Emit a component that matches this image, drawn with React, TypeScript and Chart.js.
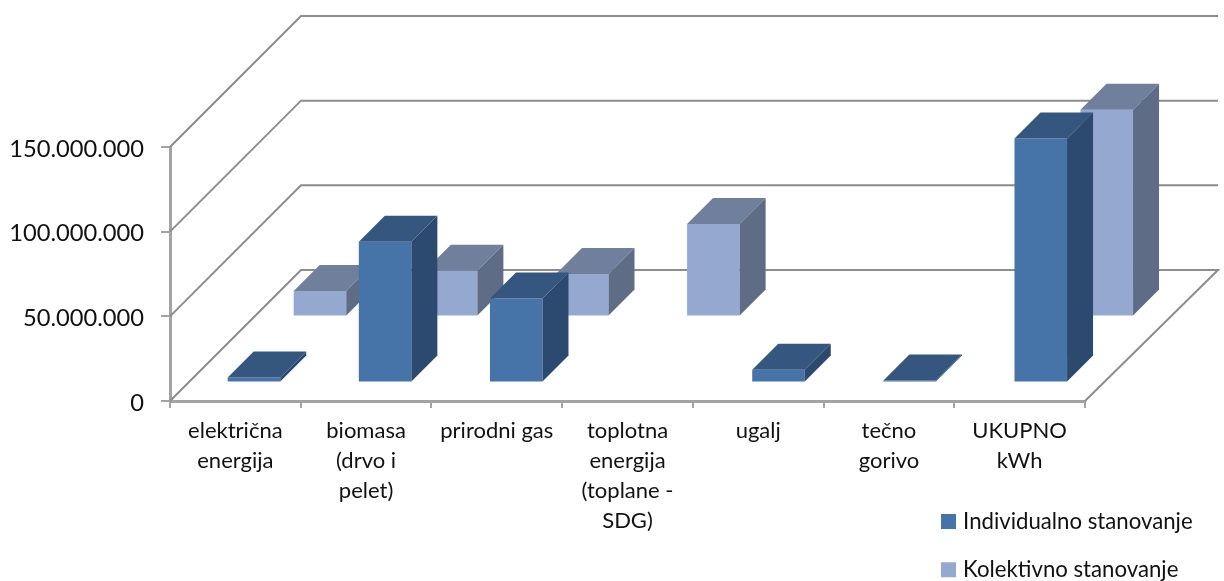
import React, { useEffect, useRef } from "react";
import { Chart, registerables } from "chart.js";

Chart.register(...registerables);

const categories = [
  ["električna", "energija"],
  ["biomasa", "(drvo i", "pelet)"],
  ["prirodni gas"],
  ["toplotna", "energija", "(toplane -", "SDG)"],
  ["ugalj"],
  ["tečno", "gorivo"],
  ["UKUPNO", "kWh"],
];
const individualno = [2900000, 83000000, 49500000, null, 7500000, 1100000, 144000000];
const kolektivno = [15000000, 27000000, 25000000, 54500000, null, null, 122000000];

const FONT = "Lato, Carlito, 'Open Sans', sans-serif";
const WALL = 131;
const BAR_DEPTH = 26;
const AXIS = "#a3a3a3";
const GRID = "#8c8c8c";
const LEGEND_PAD = 26;

const styles = [
  { front: "#4673a8", top: "#34567f", side: "#2c4a6f", offset: 18.6 },
  { front: "#95a9d0", top: "#6f7f9c", side: "#5f6c85", offset: 84.6 },
];

function poly(ctx: CanvasRenderingContext2D, pts: number[][], fill: string) {
  ctx.beginPath();
  pts.forEach((p, i) => (i ? ctx.lineTo(p[0], p[1]) : ctx.moveTo(p[0], p[1])));
  ctx.closePath();
  ctx.fillStyle = fill;
  ctx.fill();
}

const scene3d = {
  id: "scene3d",
  afterLayout(chart: any) {
    const lg = chart.legend;
    lg.left = 945 - LEGEND_PAD;
    lg.right = 1224;
    lg.top = 510.5 - LEGEND_PAD;
    lg.bottom = 640;
    lg.width = lg.right - lg.left;
    lg.height = lg.bottom - lg.top;
  },
  beforeDatasetsDraw(chart: any) {
    const { ctx, scales, chartArea } = chart;
    const y = scales.y;
    ctx.save();
    ctx.strokeStyle = GRID;
    ctx.lineWidth = 2;
    const left = chartArea.left;
    const right = chartArea.right;
    y.ticks.forEach((t: any) => {
      const py = y.getPixelForValue(t.value);
      ctx.beginPath();
      ctx.moveTo(left, py);
      ctx.lineTo(left + WALL, py - WALL);
      ctx.lineTo(right + WALL + 2, py - WALL);
      if (t.value === 0) ctx.lineTo(right, py);
      ctx.stroke();
    });
    [1, 0].forEach((di) => {
      const st = styles[di];
      const meta = chart.getDatasetMeta(di);
      meta.data.forEach((bar: any, i: number) => {
        const v = chart.data.datasets[di].data[i];
        if (v === null) return;
        const w = bar.width;
        const x0 = bar.x - w / 2 + st.offset + i * 0.42;
        const x1 = x0 + w;
        const yb = bar.base - st.offset;
        const yt = bar.y - st.offset;
        const d = BAR_DEPTH;
        poly(ctx, [[x0, yb], [x1, yb], [x1, yt], [x0, yt]], st.front);
        poly(ctx, [[x0, yt], [x1, yt], [x1 + d, yt - d], [x0 + d, yt - d]], st.top);
        poly(ctx, [[x1, yb], [x1 + d, yb - d], [x1 + d, yt - d], [x1, yt]], st.side);
      });
    });
    ctx.restore();
    return false;
  },
};

export default function App() {
  const ref = useRef<HTMLCanvasElement>(null);
  useEffect(() => {
    document.body.style.margin = "0";
    const chart = new Chart(ref.current as HTMLCanvasElement, {
      type: "bar",
      data: {
        labels: categories,
        datasets: [
          { label: "Individualno stanovanje", data: individualno, backgroundColor: styles[0].front, borderColor: styles[0].front, borderWidth: 8, grouped: false },
          { label: "Kolektivno stanovanje", data: kolektivno, backgroundColor: styles[1].front, borderColor: styles[1].front, borderWidth: 8, grouped: false },
        ],
      } as any,
      options: {
        responsive: false,
        animation: false,
        categoryPercentage: 1,
        barPercentage: 0.402,
        layout: { padding: { top: 147, right: 139, left: 0, bottom: 0 } },
        scales: {
          x: {
            afterFit: (s: any) => { s.height = 180; },
            grid: { drawOnChartArea: false, drawTicks: true, tickLength: 7, color: AXIS, lineWidth: 2, offset: true },
            border: { color: AXIS, width: 3 },
            ticks: {
              autoSkip: false, maxRotation: 0, minRotation: 0, padding: 8,
              color: "#111111",
              font: { family: FONT, size: 22, lineHeight: 1.36 },
            },
          },
          y: {
            min: 0, max: 150000000,
            afterFit: (s: any) => { s.width = 170; },
            grid: { drawOnChartArea: false, drawTicks: true, tickLength: 9, color: AXIS, lineWidth: 2 },
            border: { color: AXIS, width: 3 },
            ticks: {
              stepSize: 50000000, padding: 17, color: "#111111", labelOffset: 2,
              font: { family: FONT, size: 23.7 },
              callback: (v: any) => Number(v).toLocaleString("de-DE"),
            },
          },
        },
        plugins: {
          tooltip: { enabled: false },
          legend: {
            display: true,
            position: "chartArea",
            align: "start",
            labels: {
              boxWidth: 7, boxHeight: 7, padding: LEGEND_PAD, color: "#111111", textAlign: "left",
              font: { family: FONT, size: 22.2 },
            },
          },
        },
      } as any,
      plugins: [scene3d],
    });
    return () => chart.destroy();
  }, []);
  return <canvas ref={ref} width={1224} height={581} style={{ display: "block" }} />;
}
